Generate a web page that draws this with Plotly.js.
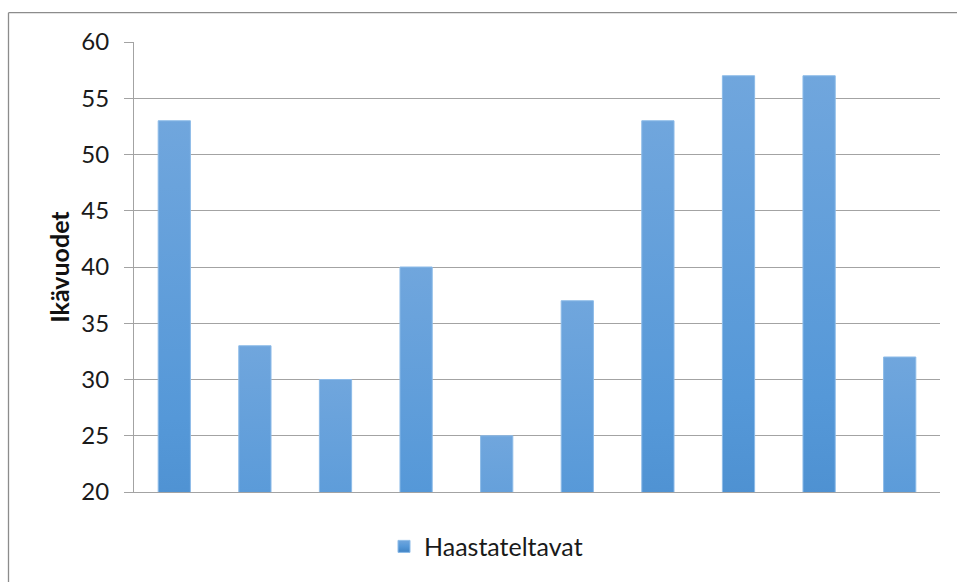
<!DOCTYPE html>
<html>
<head>
<meta charset="utf-8">
<script src="https://cdn.plot.ly/plotly-3.0.1.min.js"></script>
<style>html,body{margin:0;padding:0;background:#fff;}#chart{width:957px;height:582px;}</style>
</head>
<body>
<div id="chart"></div>
<script>
const categories = ["1","2","3","4","5","6","7","8","9","10"];
const values = [53, 33, 30, 40, 25, 37, 53, 57, 57, 32];
const seriesName = "Haastateltavat";
const yTitle = "Ikävuodet";

const FONT = "Lato, 'Open Sans', sans-serif";
const GRID = "#a3a3a3";

const L = 134, R = 17, T = 42, B = 87;
const W = 957 - L - R, H = 582 - T - B;
const px = x => (x - L) / W;
const py = y => (582 - B - y) / H;

const data = [{
  type: "bar",
  x: categories,
  y: values,
  name: seriesName,
  marker: {color: "#5a9ad8", line: {color: "#8dbbe8", width: 1}},
  showlegend: true
}];

const layout = {
  width: 957, height: 582,
  margin: {l: L, r: R, t: T, b: B},
  paper_bgcolor: "#fff", plot_bgcolor: "#fff",
  font: {family: FONT, color: "#222"},
  bargap: 0.6,
  showlegend: true,
  legend: {orientation: "h", x: px(486), xanchor: "center", y: py(550), yanchor: "middle",
           font: {size: 25, family: FONT, color: "#1a1a1a"}, itemwidth: 30, bgcolor: "rgba(0,0,0,0)"},
  xaxis: {type: "category", showticklabels: false, ticks: "", showgrid: false,
          showline: true, linecolor: GRID, linewidth: 1, zeroline: false, fixedrange: true},
  yaxis: {range: [20, 60], dtick: 5, tick0: 20, showgrid: true, gridcolor: GRID, gridwidth: 1,
          ticks: "outside", ticklen: 9, tickcolor: GRID, tickwidth: 1,
          showline: true, linecolor: GRID, linewidth: 1, zeroline: false,
          tickfont: {size: 24, family: FONT, color: "#1a1a1a"}, ticklabelstandoff: 10,
          title: {text: "<b>" + yTitle + "</b>", font: {size: 25, family: FONT, color: "#111"}, standoff: 4}},
  shapes: [
    {type: "line", xref: "paper", yref: "paper", x0: px(8.5), x1: px(975), y0: py(12.5), y1: py(12.5),
     line: {color: "#8c8c8c", width: 1.3}},
    {type: "line", xref: "paper", yref: "paper", x0: px(8.5), x1: px(8.5), y0: py(12.5), y1: py(600),
     line: {color: "#8c8c8c", width: 1.3}}
  ]
};

Plotly.newPlot("chart", data, layout, {staticPlot: true, displayModeBar: false}).then(gd => {
  const svg = gd.querySelector("svg.main-svg");
  const ns = "http://www.w3.org/2000/svg";
  let defs = svg.querySelector("defs");
  const grad = document.createElementNS(ns, "linearGradient");
  grad.setAttribute("id", "barGrad");
  grad.setAttribute("x1", "0"); grad.setAttribute("y1", "0");
  grad.setAttribute("x2", "0"); grad.setAttribute("y2", "1");
  [["0", "#70a6dd"], ["0.5", "#5598d8"], ["1", "#3f82c3"]].forEach(([o, c]) => {
    const s = document.createElementNS(ns, "stop");
    s.setAttribute("offset", o); s.setAttribute("stop-color", c);
    grad.appendChild(s);
  });
  defs.appendChild(grad);
  gd.querySelectorAll(".barlayer .point path").forEach(p => { p.style.fill = "url(#barGrad)"; });
  gd.querySelectorAll(".legend .legendpoints path").forEach(p => {
    p.style.fill = "url(#barGrad)";
  });
});
</script>
</body>
</html>
